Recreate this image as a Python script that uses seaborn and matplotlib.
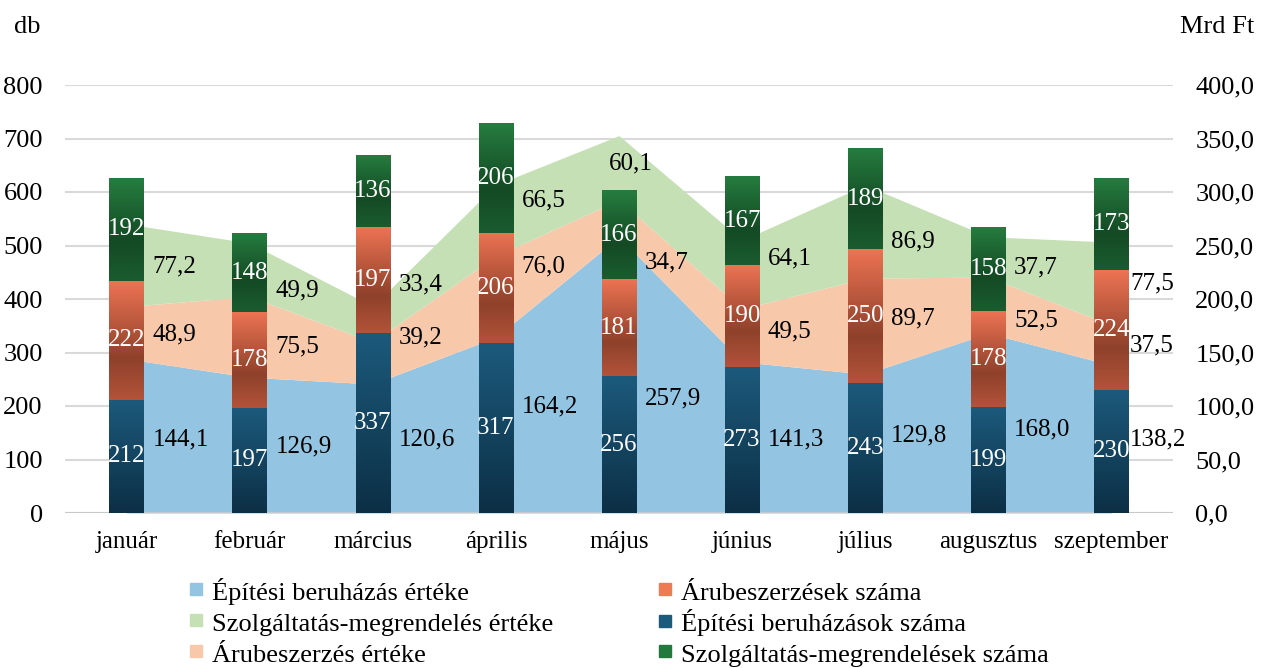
import numpy as np
import pandas as pd
import seaborn as sns
import matplotlib.pyplot as plt
from matplotlib.colors import LinearSegmentedColormap
from matplotlib.lines import Line2D
from matplotlib.ticker import FuncFormatter

months = ["január", "február", "március", "április", "május",
          "június", "július", "augusztus", "szeptember"]

# db (bars)
epit_db = [212, 197, 337, 317, 256, 273, 243, 199, 230]
aru_db = [222, 178, 197, 206, 181, 190, 250, 178, 224]
szolg_db = [192, 148, 136, 206, 166, 167, 189, 158, 173]

# Mrd Ft (areas)
epit_ft = [144.1, 126.9, 120.6, 164.2, 257.9, 141.3, 129.8, 168.0, 138.2]
aru_ft = [48.9, 75.5, 39.2, 76.0, 34.7, 49.5, 89.7, 52.5, 37.5]
szolg_ft = [77.2, 49.9, 33.4, 66.5, 60.1, 64.1, 86.9, 37.7, 77.5]

sns.set_style("white")
plt.rcParams["font.family"] = ["Liberation Serif", "DejaVu Serif"]
plt.rcParams["text.color"] = "black"
plt.rcParams["xtick.color"] = "black"
plt.rcParams["ytick.color"] = "black"
FS = 19
LFS = 18

df = pd.DataFrame({"honap": months, "epit": epit_db, "aru": aru_db, "szolg": szolg_db})

fig = plt.figure(figsize=(12.65, 6.68), dpi=100)
ax = fig.add_axes([65/1265, 1-513/668, (1173-65)/1265, (513-85)/668])
ax2 = ax.twinx()
ax.set_zorder(2)
ax2.set_zorder(1)
ax.patch.set_visible(False)

# stacked areas on the Mrd Ft axis
xs = np.arange(len(months))
ax2.stackplot(xs, epit_ft, aru_ft, szolg_ft,
              colors=["#93c4e1", "#f7c9aa", "#c5e0b5"], linewidth=0, zorder=2)
ax2.set_ylim(0, 400)
ax2.set_yticks(np.arange(0, 401, 50))
ax2.yaxis.set_major_formatter(FuncFormatter(lambda v, p: f"{v:.1f}".replace(".", ",")))
ax2.grid(axis="y", color="#d9d9d9", lw=1.5, zorder=0)
ax2.set_axisbelow(True)
ax2.axhline(0, color="#c8c8c8", lw=2.2, zorder=3)

# stacked bars on the db axis
grads = {
    "epit": [(0, "#0c2f45"), (1, "#1c5a7c")],
    "aru": [(0, "#b3533a"), (0.35, "#8f412b"), (1, "#ed7353")],
    "szolg": [(0, "#1b5c2f"), (0.4, "#144a24"), (1, "#267d40")],
}
bottom = np.zeros(len(months))
for col in ["epit", "aru", "szolg"]:
    n0 = len(ax.patches)
    sns.barplot(data=df, x="honap", y=col, order=months, ax=ax, width=0.28,
                bottom=bottom, color="#444444", errorbar=None, linewidth=0, zorder=3)
    cmap = LinearSegmentedColormap.from_list(col, grads[col])
    g = np.linspace(0, 1, 256).reshape(-1, 1)
    for p, v in zip(ax.patches[n0:], df[col]):
        x0, y0 = p.get_xy()
        w, h = p.get_width(), p.get_height()
        im = ax.imshow(g, cmap=cmap, extent=[x0, x0 + w, y0, y0 + h],
                       origin="lower", aspect="auto", zorder=3.1)
        im.set_clip_path(p)
        ax.text(x0 + w / 2, y0 + h / 2, str(v), color="white", fontsize=LFS,
                ha="center", va="center", zorder=4)
    bottom = bottom + df[col].to_numpy()

ax.set_xlim(-0.5, len(months) - 0.5)
ax.set_ylim(0, 800)
ax.set_yticks(np.arange(0, 801, 100))
ax.set_xlabel("")
ax.set_ylabel("")
ax2.set_ylabel("")

# area labels: middle of each layer, read a little right of the point
cum = np.zeros(len(months))
for vals in [epit_ft, aru_ft, szolg_ft]:
    top = cum + np.array(vals)
    for i, v in enumerate(vals):
        txt = f"{v:.1f}".replace(".", ",")
        if i == 4 and vals is szolg_ft:
            ax.text(i + 0.1, cum[i] + v / 2 + 4, txt, fontsize=LFS, ha="center", va="center",
                    transform=ax2.transData, zorder=5)
            continue
        xm = min(i + 0.38, len(months) - 1)
        ym = (np.interp(xm, xs, cum) + np.interp(xm, xs, top)) / 2
        dx = 0.21 if i < len(months) - 1 else 0.15
        ax.text(i + dx, ym, txt, fontsize=LFS, ha="left", va="center",
                transform=ax2.transData, zorder=5)
    cum = top

for a in (ax, ax2):
    for s in a.spines.values():
        s.set_visible(False)
ax.tick_params(axis="y", length=0, pad=16, labelsize=FS)
ax.tick_params(axis="x", length=0, pad=13, labelsize=LFS)
ax2.tick_params(axis="y", length=0, pad=16, labelsize=FS)

fig.text(27/1265, 1-27/668, "db", fontsize=FS, ha="center", va="center")
fig.text(1217/1265, 1-27/668, "Mrd Ft", fontsize=FS, ha="center", va="center")

def sq(c, lab):
    return Line2D([], [], marker="s", linestyle="", markersize=9, color=c, label=lab)

handles = [
    sq("#93c4e1", "Építési beruházás értéke"),
    sq("#c5e0b5", "Szolgáltatás-megrendelés értéke"),
    sq("#f7c9aa", "Árubeszerzés értéke"),
    sq("#ef7b55", "Árubeszerzések száma"),
    sq("#1b5a7d", "Építési beruházások száma"),
    sq("#22793d", "Szolgáltatás-megrendelések száma"),
]
fig.legend(handles=handles, ncol=2, loc="upper left", bbox_to_anchor=(176/1265, 1-565/668),
           frameon=False, fontsize=FS, handlelength=0.5, handleheight=1.1,
           handletextpad=0.35, columnspacing=4.0, labelspacing=0.16, borderpad=0)

fig.savefig("out.png", dpi=100)
